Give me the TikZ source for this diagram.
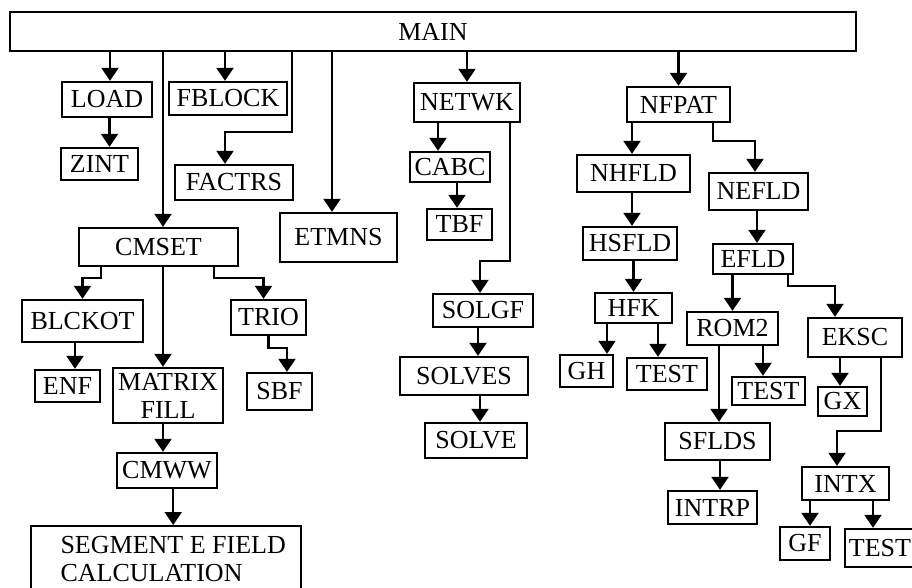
\documentclass[tikz,border=0pt]{standalone}
\usepackage{fontspec}
\setmainfont{Liberation Serif}
\usetikzlibrary{arrows.meta}

\begin{document}
\begin{tikzpicture}[x=1pt,y=-1pt,>={Triangle[width=17pt,length=13pt]},line width=2.2pt,
    box/.style={draw,line width=2.4pt,inner sep=1pt,font=\fontsize{26}{28}\selectfont},
    wh/.style 2 args={minimum width=#1pt,minimum height=#2pt}]
    \useasboundingbox[fill=white] (0,0) rectangle (912,587);
    % boxes
    \node[box,wh={846}{39}] (main) at (433,31.5) {MAIN};
    \node[box,wh={90}{35}] (load) at (107,99.5) {LOAD};
    \node[box,wh={77}{32}] (zint) at (99.5,164) {ZINT};
    \node[box,wh={118}{33}] (fblock) at (228,98.5) {FBLOCK};
    \node[box,wh={118}{35}] (factrs) at (234,182.5) {FACTRS};
    \node[box,wh={117}{49}] (etmns) at (338.5,237.5) {ETMNS};
    \node[box,wh={159}{38}] (cmset) at (158.5,247) {CMSET};
    \node[box,wh={121}{42}] (blckot) at (82.5,321) {BLCKOT};
    \node[box,wh={65}{32}] (enf) at (67.5,386) {ENF};
    \node[box,wh={110}{55},align=center] (mfill) at (168,395.5) {MATRIX\\FILL};
    \node[box,wh={75}{35}] (trio) at (268.5,317.5) {TRIO};
    \node[box,wh={65}{37}] (sbf) at (279.5,391.5) {SBF};
    \node[box,wh={100}{35}] (cmww) at (167,470.5) {CMWW};
    \node[box,wh={270}{66},align=left,anchor=north west] (segment) at (30,525)
        {\hspace*{14pt}SEGMENT E FIELD\\\hspace*{14pt}CALCULATION};
    \node[box,wh={106}{39}] (netwk) at (467,102.5) {NETWK};
    \node[box,wh={80}{30}] (cabc) at (450,167) {CABC};
    \node[box,wh={65}{31}] (tbf) at (459.5,224.5) {TBF};
    \node[box,wh={100}{33}] (solgf) at (483,310.5) {SOLGF};
    \node[box,wh={128}{38}] (solves) at (464,376) {SOLVES};
    \node[box,wh={102}{35}] (solve) at (476,440.5) {SOLVE};
    \node[box,wh={103}{35}] (nfpat) at (678.5,104.5) {NFPAT};
    \node[box,wh={113}{37}] (nhfld) at (633.5,173.5) {NHFLD};
    \node[box,wh={99}{37}] (nefld) at (758.5,191.5) {NEFLD};
    \node[box,wh={94}{33}] (hsfld) at (630,243.5) {HSFLD};
    \node[box,wh={80}{30}] (efld) at (753,259) {EFLD};
    \node[box,wh={77}{30}] (hfk) at (633.5,308) {HFK};
    \node[box,wh={53}{32}] (gh) at (586.5,371) {GH};
    \node[box,wh={80}{32}] (test1) at (667,374) {TEST};
    \node[box,wh={91}{33}] (rom2) at (732.5,328.5) {ROM2};
    \node[box,wh={73}{28}] (test2) at (768.5,391) {TEST};
    \node[box,wh={94}{39}] (eksc) at (855,337.5) {EKSC};
    \node[box,wh={49}{29}] (gx) at (842.5,401.5) {GX};
    \node[box,wh={105}{37}] (sflds) at (717.5,441.5) {SFLDS};
    \node[box,wh={89}{33}] (intrp) at (712.5,507.5) {INTRP};
    \node[box,wh={87}{33}] (intx) at (845.5,483.5) {INTX};
    \node[box,wh={50}{33}] (gf) at (805,543.5) {GF};
    \node[box,wh={70}{38}] (test3) at (880,548) {TEST};
    % calls from MAIN
    \draw[->] ([xshift=3pt]load.north |- main.south) -- ([xshift=3pt]load.north);
    \draw[->] ([xshift=10pt]zint.north |- load.south) -- ([xshift=10pt]zint.north);
    \draw[->] ([xshift=-3pt]fblock.north |- main.south) -- ([xshift=-3pt]fblock.north);
    \draw[->] ([xshift=58pt]factrs.north |- main.south) |- ([xshift=-9pt,yshift=32pt]factrs.north)
        -- ([xshift=-9pt]factrs.north);
    \draw[->] ([xshift=4.5pt]cmset.north |- main.south) -- ([xshift=4.5pt]cmset.north);
    \draw[->] ([xshift=-6.5pt]etmns.north |- main.south) -- ([xshift=-6.5pt]etmns.north);
    \draw[->] (netwk.north |- main.south) -- (netwk.north);
    \draw[->] (nfpat.north |- main.south) -- (nfpat.north);
    % CMSET branch
    \draw[->] ([xshift=23pt]cmset.south west) |- ([yshift=21pt]blckot.north) -- (blckot.north);
    \draw[->] ([xshift=-5pt]mfill.north |- cmset.south) -- ([xshift=-5pt]mfill.north);
    \draw[->] ([xshift=-25pt]cmset.south east) |- ([xshift=-5pt,yshift=21pt]trio.north)
        -- ([xshift=-5pt]trio.north);
    \draw[->] ([xshift=7.5pt]enf.north |- blckot.south) -- ([xshift=7.5pt]enf.north);
    \draw[->] (trio.south) |- ([xshift=7.5pt,yshift=24pt]sbf.north) -- ([xshift=7.5pt]sbf.north);
    \draw[->] ([xshift=-4pt]cmww.north |- mfill.south) -- ([xshift=-4pt]cmww.north);
    \draw[->] ([xshift=7pt]segment.north |- cmww.south) -- ([xshift=7pt]segment.north);
    % NETWK branch
    \draw[->] ([xshift=-12pt]cabc.north |- netwk.south) -- ([xshift=-12pt]cabc.north);
    \draw[->] ([xshift=-2.5pt]tbf.north |- cabc.south) -- ([xshift=-2.5pt]tbf.north);
    \draw[->] ([xshift=-11pt]netwk.south east) |- ([xshift=-3pt,yshift=32pt]solgf.north)
        -- ([xshift=-3pt]solgf.north);
    \draw[->] ([xshift=14pt]solves.north |- solgf.south) -- ([xshift=14pt]solves.north);
    \draw[->] ([xshift=4pt]solve.north |- solves.south) -- ([xshift=4pt]solve.north);
    % NFPAT branch
    \draw[->] ([xshift=-1.5pt]nhfld.north |- nfpat.south) -- ([xshift=-1.5pt]nhfld.north);
    \draw[->] ([xshift=-18pt]nfpat.south east) |- ([xshift=-3.5pt,yshift=31pt]nefld.north)
        -- ([xshift=-3.5pt]nefld.north);
    \draw[->] ([xshift=2pt]hsfld.north |- nhfld.south) -- ([xshift=2pt]hsfld.north);
    \draw[->] (hfk.north |- hsfld.south) -- (hfk.north);
    \draw[->] ([xshift=20.5pt]gh.north |- hfk.south) -- ([xshift=20.5pt]gh.north);
    \draw[->] ([xshift=-9pt]test1.north |- hfk.south) -- ([xshift=-9pt]test1.north);
    \draw[->] ([xshift=4pt]efld.north |- nefld.south) -- ([xshift=4pt]efld.north);
    \draw[->] (rom2.north |- efld.south) -- (rom2.north);
    \draw[->] ([xshift=-6pt]efld.south east) |- ([xshift=-20pt,yshift=31pt]eksc.north)
        -- ([xshift=-20pt]eksc.north);
    \draw[->] ([xshift=-5.5pt]test2.north |- rom2.south) -- ([xshift=-5.5pt]test2.north);
    \draw[->] ([xshift=1.5pt]sflds.north |- rom2.south) -- ([xshift=1.5pt]sflds.north);
    \draw[->] ([xshift=-2.5pt]gx.north |- eksc.south) -- ([xshift=-2.5pt]gx.north);
    \draw[->] ([xshift=-22pt]eksc.south east) |- ([xshift=-8.5pt,yshift=35pt]intx.north)
        -- ([xshift=-8.5pt]intx.north);
    \draw[->] ([xshift=7.5pt]intrp.north |- sflds.south) -- ([xshift=7.5pt]intrp.north);
    \draw[->] ([xshift=5pt]gf.north |- intx.south) -- ([xshift=5pt]gf.north);
    \draw[->] ([xshift=-7pt]test3.north |- intx.south) -- ([xshift=-7pt]test3.north);
\end{tikzpicture}
\end{document}
